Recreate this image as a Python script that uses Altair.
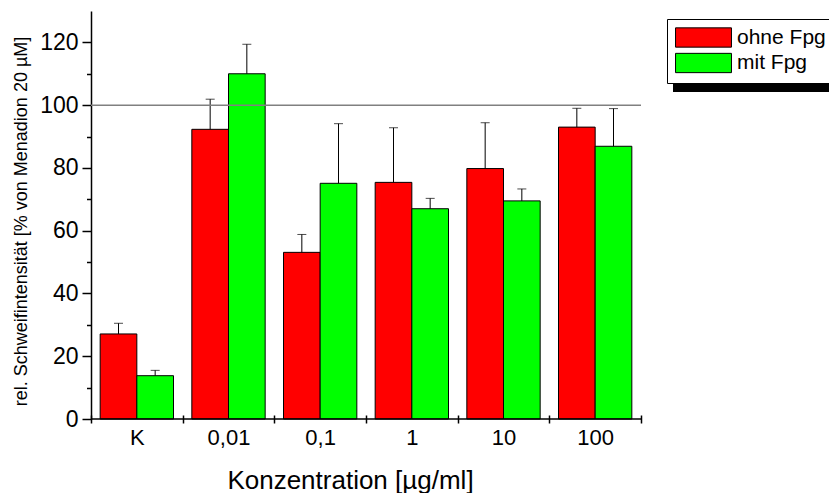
import altair as alt
import pandas as pd

categories = ["K", "0,01", "0,1", "1", "10", "100"]
series_names = ["ohne Fpg", "mit Fpg"]
ohne_values = [27.1, 92.3, 53.1, 75.4, 79.8, 93.0]
ohne_errors = [3.4, 9.6, 5.7, 17.4, 14.6, 6.0]
mit_values = [13.8, 110.0, 75.1, 67.0, 69.5, 86.9]
mit_errors = [1.7, 9.4, 19.0, 3.3, 3.8, 12.0]
reference_value = [100]
baseline_value = [0]
y_ticks = list(range(0, 130, 10))
x_ticks = list(range(0, len(categories) + 1))
colors = ["#FF0000", "#00FF00"]

FONT = "Liberation Sans"

rows = []
for i, c in enumerate(categories):
    for j, (vals, errs) in enumerate([(ohne_values, ohne_errors), (mit_values, mit_errors)]):
        start = i + 0.1 + 0.4 * j
        rows.append(dict(cat=c, series=series_names[j], x0=start, x1=start + 0.4,
                         xc=start + 0.2, value=vals[i], top=vals[i] + errs[i]))
df = pd.DataFrame(rows)

xscale = alt.Scale(domain=[0, len(categories)], nice=False, zero=False)
yscale = alt.Scale(domain=[0, 130], nice=False)

label_array = "[" + ",".join("'" + c + "'" for c in categories) + "]"

xaxis = alt.Axis(
    values=x_ticks,
    labelExpr=f"datum.value < {len(categories)} ? {label_array}[datum.value] : ''",
    labelOffset=550 / len(categories) / 2,
    labelFlush=False, labelOverlap=False,
    domain=False, offset=-4, tickSize=8, tickWidth=1.5, tickColor="black",
    labelFontSize=22, labelFont=FONT, labelColor="black", labelPadding=4,
    grid=False,
    title="Konzentration [µg/ml]", titleFontSize=26, titleFont=FONT,
    titleFontWeight="normal", titleColor="black",
    titleX=259, titleY=73, titleAlign="center", titleBaseline="alphabetic",
)

yaxis = alt.Axis(
    values=y_ticks,
    labelExpr="datum.value % 20 === 0 ? datum.label : ''",
    tickSize={"condition": {"test": "datum.value % 20 === 0", "value": 9}, "value": 4.5},
    tickWidth=1.5, tickColor="black", domainColor="black", domainWidth=1.5,
    labelFontSize=23, labelFont=FONT, labelColor="black", labelPadding=4,
    grid=False,
    title="rel. Schweifintensität [% von Menadion 20 µM]", titleFontSize=18,
    titleFont=FONT, titleFontWeight="normal", titleColor="black",
    titleX=-70, titleY=210, titleAlign="center", titleBaseline="middle",
)

legend = alt.Legend(
    title=None, orient="none", legendX=576, legendY=8,
    symbolType="M-2.9,-1H2.9V1H-2.9Z", symbolSize=372,
    symbolStrokeColor="black", symbolStrokeWidth=1, symbolOpacity=1,
    symbolOffset=18, labelOffset=23,
    labelFontSize=21, labelFont=FONT, labelColor="black",
    padding=8, strokeColor="black", fillColor="white", rowPadding=0.5,
)

bars = alt.Chart(df).mark_rect(stroke="black", strokeWidth=1).encode(
    x=alt.X("x0:Q", scale=xscale, axis=xaxis),
    x2="x1:Q",
    y=alt.Y("value:Q", scale=yscale, axis=yaxis),
    y2=alt.datum(0),
    color=alt.Color("series:N", scale=alt.Scale(domain=series_names, range=colors), legend=legend),
)

err = alt.Chart(df).mark_rule(color="black", strokeWidth=1).encode(
    x=alt.X("xc:Q", scale=xscale, axis=xaxis),
    y=alt.Y("value:Q", scale=yscale, axis=yaxis),
    y2="top:Q",
)

caps = alt.Chart(df).mark_tick(color="black", thickness=1, size=9, orient="horizontal").encode(
    x=alt.X("xc:Q", scale=xscale, axis=xaxis),
    y=alt.Y("top:Q", scale=yscale, axis=yaxis),
)

ref = alt.Chart(pd.DataFrame({"ref": reference_value})).mark_rule(
    color="#808080", strokeWidth=1.5).encode(y=alt.Y("ref:Q", scale=yscale, axis=yaxis))

zero = alt.Chart(pd.DataFrame({"base": baseline_value})).mark_rule(
    color="black", strokeWidth=1.5).encode(y=alt.Y("base:Q", scale=yscale, axis=yaxis))

shadow = alt.Chart(pd.DataFrame({"a": [0]})).mark_rect(color="black").encode(
    x=alt.value(582), x2=alt.value(770), y=alt.value(73), y2=alt.value(81))

chart = alt.layer(bars, err, caps, ref, zero, shadow).properties(
    width=550, height=408,
    autosize=alt.AutoSizeParams(type="none"),
    padding={"left": 83, "top": 3, "right": 188, "bottom": 75},
).configure_view(stroke=None)

chart.save("out.html", embed_options={"renderer": "svg", "actions": False})
